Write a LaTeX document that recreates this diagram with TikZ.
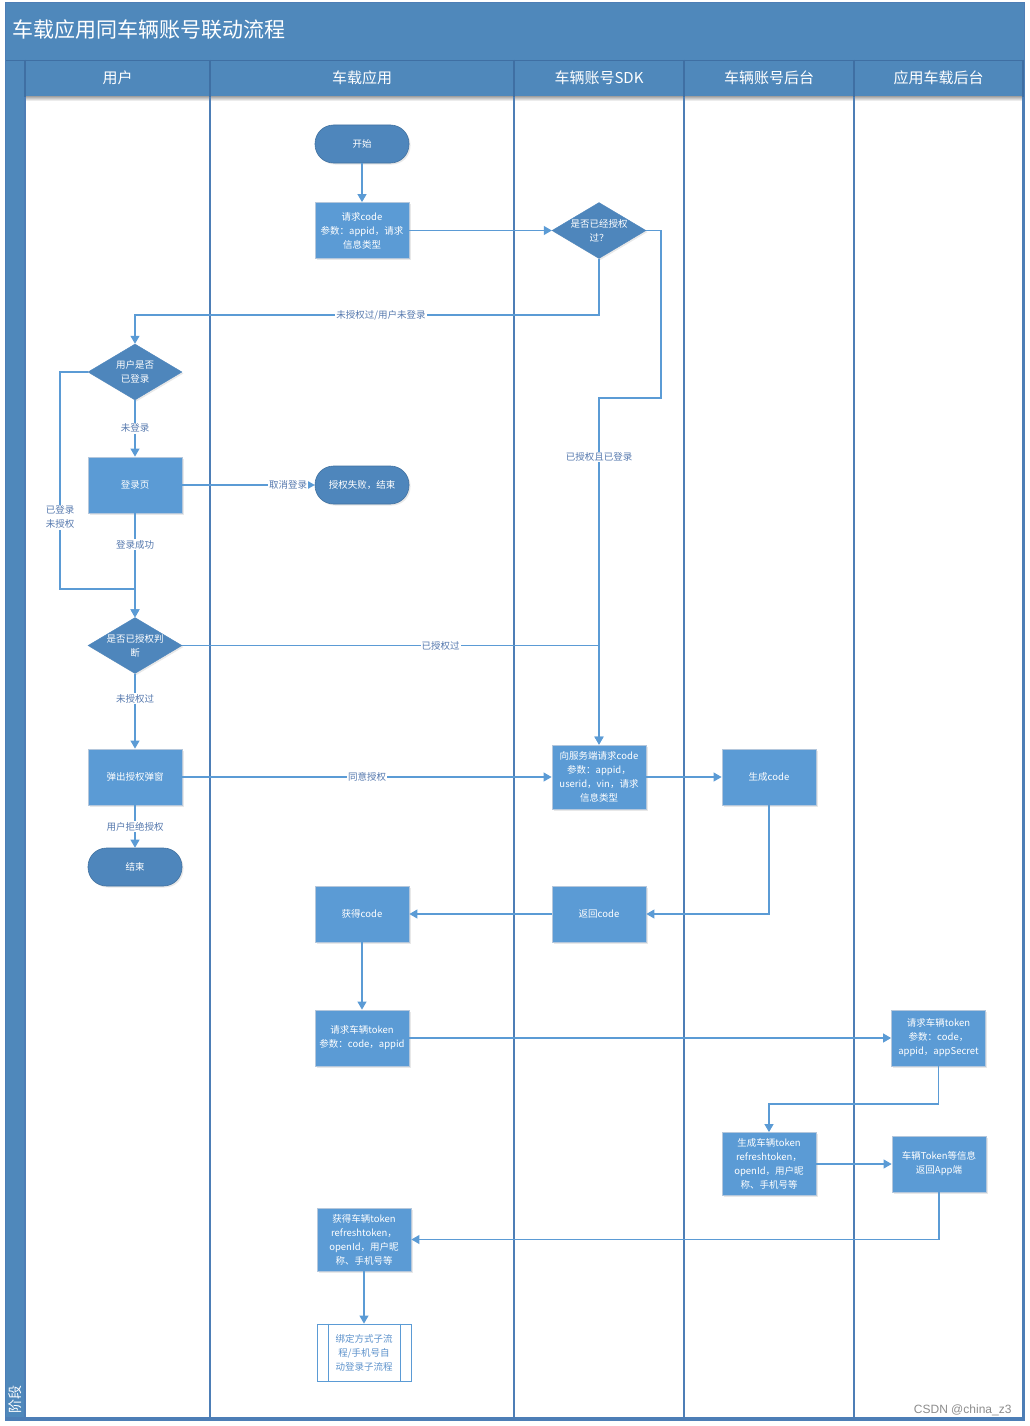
\documentclass[tikz,border=0pt]{standalone}
\usepackage{fontspec}
\setmainfont{Noto Sans CJK SC}
\newfontfamily\wmfont{Liberation Sans}
\usetikzlibrary{arrows.meta,shapes.geometric,shapes.misc,shadows,calc}
\definecolor{hdrblue}{HTML}{4F88BB}
\definecolor{laneblue}{HTML}{4D7EB6}
\definecolor{hdrline}{HTML}{3F6FA3}
\definecolor{boxblue}{HTML}{5B9BD5}
\definecolor{darkblue}{HTML}{4E86BC}
\definecolor{connblue}{HTML}{5B9BD5}
\definecolor{lblblue}{HTML}{5679AE}
\definecolor{edgegray}{HTML}{B4C7DC}
\definecolor{subtext}{HTML}{5E93CC}
\tikzset{
  nodefont/.style={font=\fontsize{9.5}{14}\selectfont},
  softshadow/.style={drop shadow={opacity=0.18, shadow xshift=1.5pt, shadow yshift=-1.5pt}},
  procbox/.style={rectangle, draw=edgegray, line width=0.8pt, fill=boxblue, text=white,
    minimum width=94pt, minimum height=56pt, align=center, inner sep=1pt, nodefont, softshadow},
  termbox/.style={rectangle, rounded corners=18.5pt, draw=darkblue!85!black, line width=0.6pt, fill=darkblue,
    text=white, minimum width=94pt, minimum height=38pt, nodefont, softshadow},
  decision/.style={diamond, draw=darkblue, fill=darkblue, minimum width=94pt, minimum height=56pt,
    inner sep=0pt, softshadow},
  dlabel/.style={text=white, align=center, nodefont},
  subproc/.style={rectangle, draw=boxblue, line width=0.8pt, fill=white, text=subtext,
    minimum width=94pt, minimum height=57pt, align=center, inner sep=1pt, nodefont},
  flow/.style={draw=connblue, line width=1.1pt, -{Triangle[length=8pt,width=9pt]}},
  elabel/.style={fill=white, text=lblblue, inner sep=1pt, align=center, nodefont},
  laneline/.style={draw=laneblue, line width=1.4pt},
}
\begin{document}
\begin{tikzpicture}[x=1pt,y=-1pt]
\useasboundingbox (0,0) rectangle (1029,1426);
% frame, title and headers
\fill[hdrblue] (5,3) rectangle (1024,97);
\fill[hdrblue] (5,97) rectangle (25,1420);
\shade[top color=black!30, bottom color=white] (25,97) rectangle (1023,101);
\draw[hdrline, line width=0.8pt] (5,60) -- (1024,60);
\node[anchor=west, text=white, font=\fontsize{21}{25}\selectfont] (title) at (9,30) {车载应用同车辆账号联动流程};
\foreach \xx in {25,210,514,684,854,1023} {
  \draw[hdrline, line width=1.2pt] (\xx,60) -- (\xx,97);
  \draw[laneline] (\xx,97) -- (\xx,1418);
}
\draw[laneblue, line width=1pt] (5,3) rectangle (1024,1420);
\draw[laneblue, line width=3pt] (5,1418) -- (1024,1418);
\node[text=white, font=\fontsize{15}{18}\selectfont] (h1) at (117.5,78) {用户};
\node[text=white, font=\fontsize{15}{18}\selectfont] (h2) at (362,78) {车载应用};
\node[text=white, font=\fontsize{15}{18}\selectfont] (h3) at (599,78) {车辆账号SDK};
\node[text=white, font=\fontsize{15}{18}\selectfont] (h4) at (769,78) {车辆账号后台};
\node[text=white, font=\fontsize{15}{18}\selectfont] (h5) at (938.5,78) {应用车载后台};
\node[text=white, rotate=90, anchor=west, font=\fontsize{14}{16}\selectfont] (stage) at (15,1417) {阶段};
\node[anchor=east, text=black!45, font=\wmfont\fontsize{12}{14}\selectfont] (wm) at (1015,1410) {CSDN @china\_z3};

% nodes
\node[termbox] (start) at (362,144) {开始};
\node[procbox] (reqcode) at (362,230.5) {请求code\\参数：appid，请求\\信息类型};
\node[decision, label={[dlabel]center:{是否已经授权\\过？}}] (q1) at (599,230.5) {};
\node[decision, label={[dlabel]center:{用户是否\\已登录}}] (qlogin) at (135,372) {};
\node[procbox] (loginpage) at (135,485) {登录页};
\node[termbox] (fail) at (362,485) {授权失败，结束};
\node[decision, label={[dlabel]center:{是否已授权判\\断}}] (qauth) at (135,645.5) {};
\node[procbox] (popup) at (135,777) {弹出授权弹窗};
\node[termbox] (endnode) at (135,867) {结束};
\node[procbox, minimum height=64pt] (reqsvc) at (599,777) {向服务端请求code\\参数：appid，\\userid，vin，请求\\信息类型};
\node[procbox] (gencode) at (769,777) {生成code};
\node[procbox] (retcode) at (599,914) {返回code};
\node[procbox] (getcode) at (362,914) {获得code};
\node[procbox] (reqtok) at (362,1038) {请求车辆token\\参数：code，appid};
\node[procbox] (reqtokb) at (938.5,1038) {请求车辆token\\参数：code，\\appid，appSecret};
\node[procbox, minimum height=63pt] (gentok) at (769,1164) {生成车辆token\\refreshtoken，\\openId，用户昵\\称、手机号等};
\node[procbox] (rettok) at (939,1164) {车辆Token等信息\\返回App端};
\node[procbox, minimum height=63pt] (gettok) at (364,1239.5) {获得车辆token\\refreshtoken，\\openId，用户昵\\称、手机号等};
\node[subproc] (bind) at (364,1352.5) {绑定方式子流\\程/手机号自\\动登录子流程};
\draw[boxblue, line width=0.8pt] ($(bind.north west)+(11.5,0)$) -- ($(bind.south west)+(11.5,0)$);
\draw[boxblue, line width=0.8pt] ($(bind.north east)+(-11.5,0)$) -- ($(bind.south east)+(-11.5,0)$);

% connectors
\draw[flow] (start) -- (reqcode);
\draw[flow] (reqcode) -- (q1);
\draw[flow] (q1.south) -- (599,315) -- node[elabel, pos=0.47] {未授权过/用户未登录} (135,315) -- (qlogin.north);
\draw[flow] (q1.east) -- (661,230.5) -- (661,398) -- (599,398) -- node[elabel, pos=0.17] {已授权且已登录} (reqsvc.north);
\draw[flow] (qlogin.south) -- node[elabel] {未登录} (loginpage.north);
\draw[flow] (qlogin.west) -- (60,372) -- node[elabel, pos=0.67] {已登录\\未授权} (60,589) -- (135,589) -- (qauth.north);
\draw[flow] (loginpage.south) -- node[elabel, pos=0.3] {登录成功} (qauth.north);
\draw[flow] (loginpage.east) -- node[elabel, pos=0.8] {取消登录} (fail.west);
\draw[flow] (qauth.east) -- node[elabel, pos=0.62] {已授权过} (599,645.5) -- (reqsvc.north);
\draw[flow] (qauth.south) -- node[elabel, pos=0.33] {未授权过} (popup.north);
\draw[flow] (popup.east) -- node[elabel] {同意授权} (reqsvc.west);
\draw[flow] (popup.south) -- node[elabel] {用户拒绝授权} (endnode.north);
\draw[flow] (reqsvc.east) -- (gencode.west);
\draw[flow] (gencode.south) |- (retcode.east);
\draw[flow] (retcode.west) -- (getcode.east);
\draw[flow] (getcode.south) -- (reqtok.north);
\draw[flow] (reqtok.east) -- (reqtokb.west);
\draw[flow] (reqtokb.south) -- (938.5,1104) -- (769,1104) -- (gentok.north);
\draw[flow] (gentok.east) -- (rettok.west);
\draw[flow] (rettok.south) |- (gettok.east);
\draw[flow] (gettok.south) -- (bind.north);
\end{tikzpicture}
\end{document}
